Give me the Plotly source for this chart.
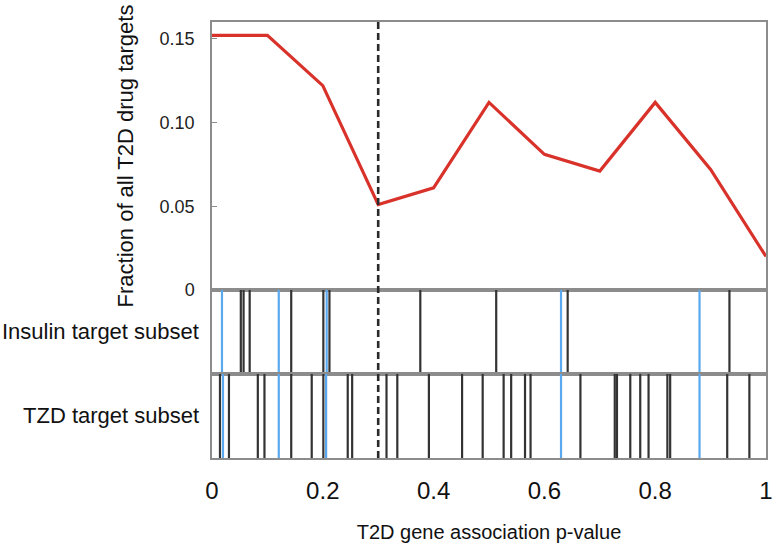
import plotly.graph_objects as go

# Main curve
p_bins = [0.0, 0.1, 0.2, 0.3, 0.4, 0.5, 0.6, 0.7, 0.8, 0.9, 1.0]
fraction = [0.152, 0.152, 0.122, 0.051, 0.061, 0.112, 0.081, 0.071, 0.112, 0.072, 0.020]

# Rug positions (p-values of targets)
insulin_black = [0.052, 0.057, 0.068, 0.143, 0.201, 0.212, 0.376, 0.513, 0.642, 0.934]
insulin_blue = [0.018, 0.1205, 0.207, 0.630, 0.880]
tzd_black = [0.0144, 0.0306, 0.0827, 0.0947, 0.143, 0.180, 0.201, 0.245, 0.253, 0.315,
             0.3345, 0.3915, 0.4514, 0.4886, 0.5264, 0.540, 0.565, 0.575, 0.665,
             0.727, 0.731, 0.755, 0.773, 0.788, 0.822, 0.827, 0.930, 0.970]
tzd_blue = [0.0198, 0.1205, 0.206, 0.630, 0.880]

threshold = 0.3

y_ticks = [0, 0.05, 0.10, 0.15]
y_ticktext = ["0", "0.05", "0.10", "0.15"]
x_ticks = [0, 0.2, 0.4, 0.6, 0.8, 1]
x_ticktext = ["0", "0.2", "0.4", "0.6", "0.8", "1"]

FONT = "Arial, Liberation Sans, sans-serif"
BLACK_RUG = "#333333"
BLUE_RUG = "#5aa9ee"
FRAME = "#8c8c8c"


def rug_xy(vals):
    xs, ys = [], []
    for v in vals:
        xs += [v, v, None]
        ys += [0, 1, None]
    return xs, ys


fig = go.Figure()

fig.add_trace(go.Scatter(x=p_bins, y=fraction, mode="lines",
                         line=dict(color="#d8322a", width=3.2),
                         xaxis="x", yaxis="y", showlegend=False, cliponaxis=False))

for vals, col, xa, ya in [(insulin_black, BLACK_RUG, "x2", "y2"),
                          (insulin_blue, BLUE_RUG, "x2", "y2"),
                          (tzd_black, BLACK_RUG, "x3", "y3"),
                          (tzd_blue, BLUE_RUG, "x3", "y3")]:
    xs, ys = rug_xy(vals)
    fig.add_trace(go.Scatter(x=xs, y=ys, mode="lines",
                             line=dict(color=col, width=2.2),
                             xaxis=xa, yaxis=ya, showlegend=False))

# dashed threshold line over all panels
fig.add_shape(type="line", xref="x3", yref="paper", x0=threshold, x1=threshold,
              y0=0, y1=1, line=dict(color="#2a2a2a", width=2.6, dash="7px,4px"), layer="above")

d_tzd = [0, 0.1927]
d_ins = [0.1927, 0.3853]
d_main = [0.3853, 1]

common_x = dict(range=[0, 1], showgrid=False, zeroline=False, showline=True,
                linecolor=FRAME, linewidth=1.5, mirror=True, ticks="", automargin=False)

fig.update_layout(
    width=777, height=548,
    margin=dict(l=212, r=9, t=22, b=90),
    paper_bgcolor="white", plot_bgcolor="white",
    font=dict(family=FONT, color="#1a1a1a"),
    xaxis=dict(**common_x, anchor="y", showticklabels=False, matches="x3"),
    xaxis2=dict(**common_x, anchor="y2", showticklabels=False, matches="x3"),
    xaxis3=dict(**common_x, anchor="y3", tickvals=x_ticks, ticktext=x_ticktext,
                tickfont=dict(size=24, color="#111"), ticklabelstandoff=10,
                title=dict(text="T2D gene association p-value",
                           font=dict(size=20, color="#111"), standoff=22)),
    yaxis=dict(domain=d_main, range=[0, 0.16], tickvals=y_ticks, ticktext=y_ticktext,
               ticks="inside", ticklen=5, tickcolor=FRAME, showgrid=False, zeroline=False,
               showline=True, linecolor=FRAME, linewidth=1.5, mirror=True, automargin=False,
               tickfont=dict(size=18, color="#222"), ticklabelstandoff=12,
               title=dict(text="Fraction of all T2D drug targets",
                          font=dict(size=22, color="#111"), standoff=20)),
    yaxis2=dict(domain=d_ins, range=[0, 1], showticklabels=False, ticks="", showgrid=False,
                zeroline=False, showline=True, linecolor=FRAME, linewidth=1.5, mirror=True),
    yaxis3=dict(domain=d_tzd, range=[0, 1], showticklabels=False, ticks="", showgrid=False,
                zeroline=False, showline=True, linecolor=FRAME, linewidth=1.5, mirror=True),
    annotations=[
        dict(text="Insulin target subset", xref="paper", yref="y2 domain", x=-0.02, y=0.5,
             xanchor="right", yanchor="middle", showarrow=False,
             font=dict(size=22, color="#111")),
        dict(text="TZD target subset", xref="paper", yref="y3 domain", x=-0.02, y=0.5,
             xanchor="right", yanchor="middle", showarrow=False,
             font=dict(size=22, color="#111")),
    ],
)

fig.write_html("out.html", config={"displayModeBar": False},
               post_script="document.body.style.margin='0';")
